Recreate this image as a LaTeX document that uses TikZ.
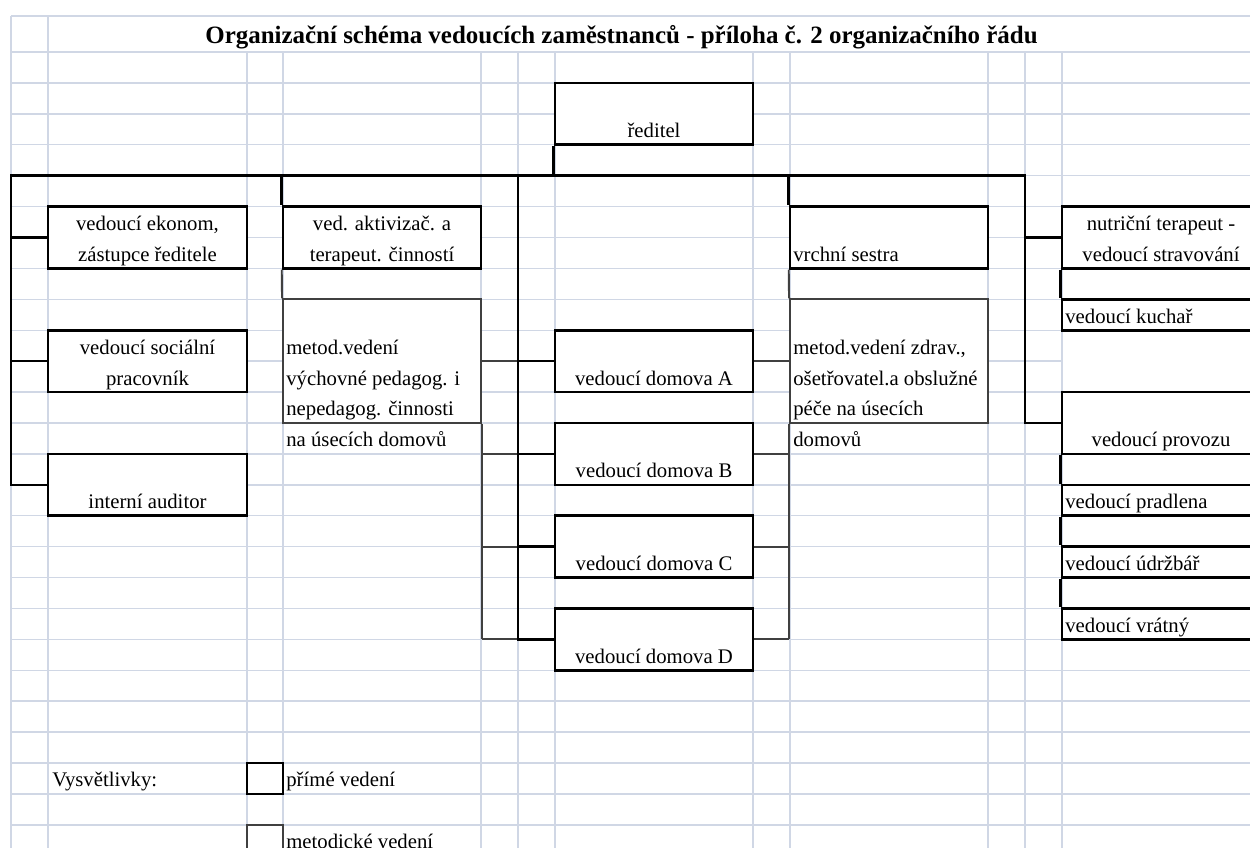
\documentclass[tikz,border=0pt]{standalone}
\usepackage{fontspec}
\setmainfont{Liberation Serif}
\usetikzlibrary{fit}

\definecolor{gridc}{HTML}{D0D7E5}
\definecolor{metc}{HTML}{404040}

\tikzset{
  gridline/.style={gridc, line width=0.8pt},
  pri/.style={draw=black, fill=white, line width=1.45pt, inner sep=0pt},
  met/.style={draw=metc, fill=white, line width=1.1pt, inner sep=0pt},
  prilink/.style={black, line width=1.45pt},
  metlink/.style={metc, line width=1.1pt},
  txt/.style={inner sep=0pt, anchor=base, font=\fontsize{11.8}{14}\selectfont},
  txtl/.style={txt, anchor=base west},
}

\begin{document}
\begin{tikzpicture}[x=0.02cm, y=-0.6184cm]
    \useasboundingbox (0,-1.682) rectangle (1250,25.744);
    \clip (0,-1.682) rectangle (1250,25.744);
    % mrizka listu
    \foreach \c in {11,48,247,283,481,518,555,753,790,988,1025,1062}
        \draw[gridline] (\c,0) -- (\c,25.744);
    \draw[gridline] (11,-1.164) -- (11,0) (48,-1.164) -- (48,0);
    \draw[gridline] (11,-1.164) -- (1250,-1.164);
    \foreach \r in {0,...,4,20,21,...,25}
        \draw[gridline] (11,\r) -- (1250,\r);
    \foreach \r in {5,...,19}
        \draw[gridline] (11,\r) -- (1062,\r);

    \node[inner sep=0pt, anchor=base, font=\bfseries\fontsize{14.2}{17}\selectfont] (title) at (621.5,-0.291)
        {Organizační schéma vedoucích zaměstnanců - příloha č. 2 organizačního řádu};

    % prime vedeni
    \node[pri, fit={(555,1) (753,3)}] (reditel) {};
    \node[pri, fit={(48,5) (247,7)}] (ekonom) {};
    \node[pri, fit={(283,5) (481,7)}] (aktiv) {};
    \node[pri, fit={(790,5) (988,7)}] (sestra) {};
    \node[pri, fit={(1062,5) (1260,7)}] (nutri) {};
    \node[pri, fit={(1062,8) (1260,9)}] (kuchar) {};
    \node[pri, fit={(48,9) (247,11)}] (social) {};
    \node[pri, fit={(555,9) (753,11)}] (domA) {};
    \node[pri, fit={(1062,11) (1260,13)}] (provoz) {};
    \node[pri, fit={(555,12) (753,14)}] (domB) {};
    \node[pri, fit={(48,13) (247,15)}] (auditor) {};
    \node[pri, fit={(1062,14) (1260,15)}] (pradl) {};
    \node[pri, fit={(555,15) (753,17)}] (domC) {};
    \node[pri, fit={(1062,16) (1260,17)}] (udrz) {};
    \node[pri, fit={(555,18) (753,20)}] (domD) {};
    \node[pri, fit={(1062,18) (1260,19)}] (vratny) {};
    \node[pri, fit={(247,23) (283,24)}] (legP) {};
    % metodicke vedeni
    \node[met, fit={(283,8) (481,12)}] (metL) {};
    \node[met, fit={(790,8) (988,12)}] (metR) {};
    \node[met, fit={(247,25) (283,26)}] (legM) {};

    % tenke cary
    \draw[metlink] (aktiv.south west) -- (metL.north west);
    \draw[metlink] (metL.south east) -- (metL.east |- domD.west);
    \draw[metlink] (sestra.south west) -- (metR.north west);
    \draw[metlink] (metR.south west) -- (metR.west |- domD.east);
    \foreach \d in {domA,domB,domC,domD} {
        \draw[metlink] (metL.east |- \d.west) -- (\d.west);
        \draw[metlink] (\d.east) -- (metR.west |- \d.east);
    }

    % tlusté cary
    \coordinate (busL) at (11,4);
    \coordinate (busM) at (518,4);
    \coordinate (busR) at (1025,4);
    \draw[prilink] (auditor.west) -| (busL) -- (busR) |- (provoz.west);
    \draw[prilink] (busL |- ekonom.west) -- (ekonom.west);
    \draw[prilink] (busL |- social.west) -- (social.west);
    \draw[prilink] (busR |- nutri.west) -- (nutri.west);
    \draw[prilink] (reditel.south west) -- (reditel.south west |- busL);
    \draw[prilink] (aktiv.north west |- busL) -- (aktiv.north west);
    \draw[prilink] (sestra.north west |- busL) -- (sestra.north west);
    \draw[prilink] (busM) |- (domD.west);
    \foreach \d in {domA,domB,domC}
        \draw[prilink] (busM |- \d.west) -- (\d.west);
    \draw[prilink] (nutri.south west) -- (kuchar.north west);
    \draw[prilink] (provoz.south west) -- (pradl.north west);
    \draw[prilink] (pradl.south west) -- (udrz.north west);
    \draw[prilink] (udrz.south west) -- (vratny.north west);

    % texty
    \node[txt] (tReditel) at (654,2.774) {ředitel};
    \node[txt] (tEkonom1) at (147.5,5.774) {vedoucí ekonom,};
    \node[txt] (tEkonom2) at (147.5,6.774) {zástupce ředitele};
    \node[txt] (tAktiv1) at (382,5.774) {ved. aktivizač. a};
    \node[txt] (tAktiv2) at (382,6.774) {terapeut. činností};
    \node[txtl] (tSestra) at (793,6.774) {vrchní sestra};
    \node[txt] (tNutri1) at (1161,5.774) {nutriční terapeut -};
    \node[txt] (tNutri2) at (1161,6.774) {vedoucí stravování};
    \node[txtl] (tKuchar) at (1065,8.774) {vedoucí kuchař};
    \node[txt] (tSocial1) at (147.5,9.774) {vedoucí sociální};
    \node[txt] (tSocial2) at (147.5,10.774) {pracovník};
    \foreach \t [count=\i] in {metod.vedení, výchovné pedagog. i, nepedagog. činnosti, na úsecích domovů}
        \node[txtl] (tMetL\i) at (286,8.774+\i) {\t};
    \foreach \t [count=\i] in {{metod.vedení zdrav.,}, ošetřovatel.a obslužné, péče na úsecích, domovů}
        \node[txtl] (tMetR\i) at (793,8.774+\i) {\t};
    \node[txt] (tDomA) at (654,10.774) {vedoucí domova A};
    \node[txt] (tDomB) at (654,13.774) {vedoucí domova B};
    \node[txt] (tDomC) at (654,16.774) {vedoucí domova C};
    \node[txt] (tDomD) at (654,19.774) {vedoucí domova D};
    \node[txt] (tProvoz) at (1161,12.774) {vedoucí provozu};
    \node[txt] (tAuditor) at (147.5,14.774) {interní auditor};
    \node[txtl] (tPradl) at (1065,14.774) {vedoucí pradlena};
    \node[txtl] (tUdrz) at (1065,16.774) {vedoucí údržbář};
    \node[txtl] (tVratny) at (1065,18.774) {vedoucí vrátný};
    \node[txtl] (tVysv) at (52,23.774) {Vysvětlivky:};
    \node[txtl] (tPrime) at (286,23.774) {přímé vedení};
    \node[txtl] (tMetod) at (286,25.774) {metodické vedení};
\end{tikzpicture}
\end{document}
